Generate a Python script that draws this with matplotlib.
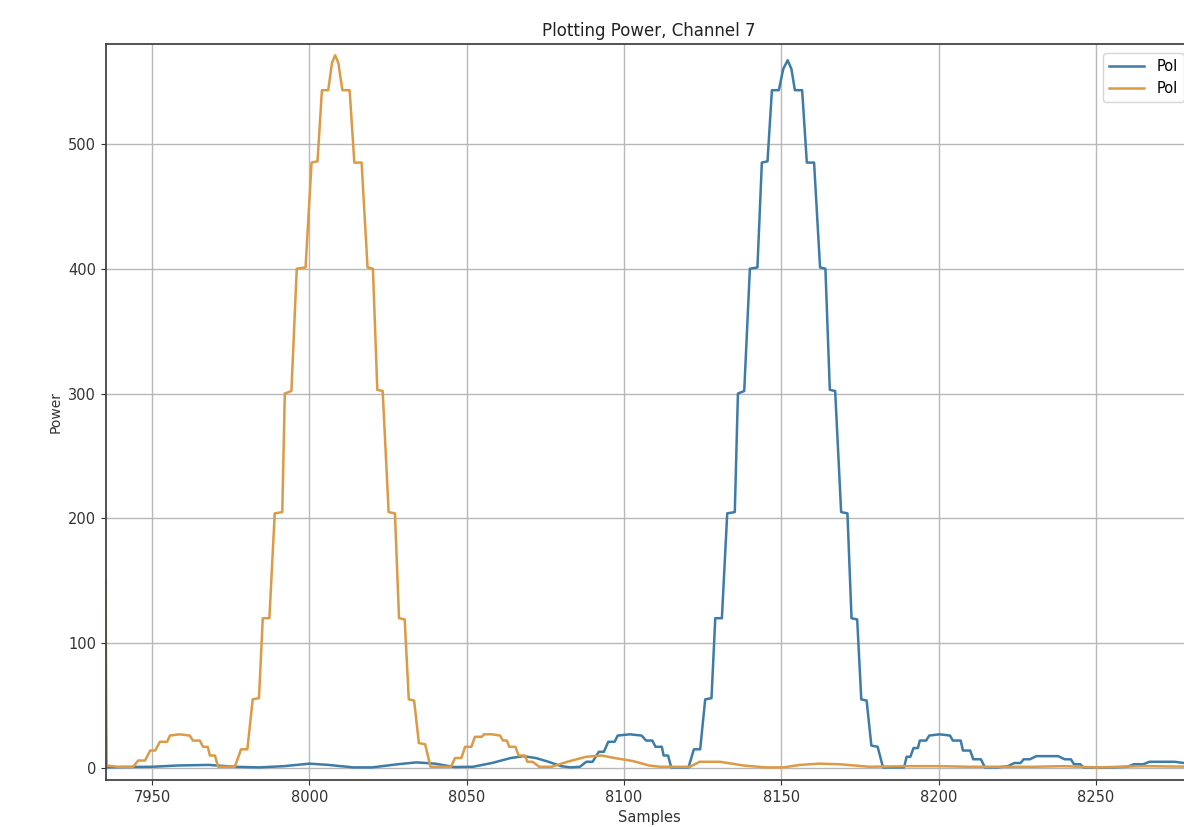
import matplotlib
matplotlib.use("Agg")
import matplotlib.pyplot as plt

# Pol 0 (blue) - breakpoints of the power trace
pol0_samples = [7935.4, 7942, 7950, 7958, 7968, 7976, 7984, 7992, 8000, 8006,
                8014, 8020, 8028, 8034, 8040, 8046, 8052, 8058, 8064, 8068,
                8072, 8076, 8080, 8083, 8086,
                8088, 8090, 8092, 8093.6, 8095, 8097, 8098, 8101.8, 8105.6,
                8107, 8109, 8110, 8112, 8112.6, 8114, 8115, 8120.5,
                8122.2, 8124.2, 8125.8, 8127.8, 8129, 8131.1, 8132.8, 8135.2,
                8136.2, 8138.2, 8140, 8142.4, 8143.8, 8145.6, 8147, 8149.2,
                8150.6, 8152, 8153.2, 8154.3, 8156.6, 8158.1, 8160.4, 8162.3,
                8164, 8165.4, 8167.1, 8169, 8171, 8172.3, 8174.1, 8175.4,
                8177.1, 8178.6, 8180.6, 8182.3, 8189,
                8189.8, 8191, 8192, 8193.4, 8194, 8196, 8197, 8200.3, 8203.6,
                8204.5, 8207, 8207.7, 8210, 8211, 8213.4, 8214.7, 8218.8,
                8222, 8224, 8226, 8227, 8229, 8231, 8238, 8240, 8242, 8243,
                8245, 8246, 8255, 8260, 8262, 8265, 8267, 8275, 8278, 8282]
pol0_power = [0.5, 0.8, 1, 2, 2.5, 1, 0.5, 1.5, 3.5, 2.5,
              0.5, 0.5, 3, 4.5, 3.5, 0.8, 1, 4, 8, 9.5,
              8, 5, 1.5, 0.5, 1,
              5, 5, 13, 13, 21, 21, 26, 27, 26,
              22, 22, 17, 17, 10, 10, 0.5, 0.5,
              15, 15, 55, 56, 120, 120, 204, 205,
              300, 302, 400, 401, 485, 486, 543, 543,
              560, 567, 560, 543, 543, 485, 485, 401,
              400, 303, 302, 205, 204, 120, 119, 55,
              54, 18, 17, 0.5, 0.5,
              9, 9, 16, 16, 22, 22, 26, 27, 26,
              22, 22, 14, 14, 7, 7, 0.5, 0.5,
              1.5, 4, 4, 7, 7, 9.5, 9.5, 7, 7, 3,
              3, 0.5, 0.5, 1, 3, 3, 5, 5, 4, 3]

# Pol 1 (orange)
pol1_samples = [7935.2, 7935.6, 7939, 7944,
                7945.6, 7947.8, 7949.4, 7951, 7952.5, 7954.8, 7955.7, 7958.8,
                7962, 7963, 7965.2, 7966.2, 7967.7, 7968.4, 7970, 7971, 7976.3,
                7978.3, 7980.3, 7982, 7984, 7985.2, 7987.3, 7989, 7991.4,
                7992.2, 7994.3, 7996, 7998.8, 8000.7, 8002.6, 8004, 8006,
                8007.2, 8008.2, 8009.2, 8010.5, 8012.8, 8014.3, 8016.6, 8018.5,
                8020.2, 8021.6, 8023.3, 8025.2, 8027.2, 8028.5, 8030.3, 8031.6,
                8033.3, 8034.8, 8036.8, 8038.5, 8045,
                8046.3, 8048.3, 8049.5, 8051.5, 8052.6, 8054.8, 8055.5, 8058,
                8060.6, 8061.5, 8062.8, 8063.5, 8065.5, 8066.5, 8068.5, 8069.3,
                8071, 8073, 8077, 8082, 8088, 8093, 8097, 8102.8, 8108,
                8111.5, 8121, 8124, 8130.5, 8138, 8145, 8150.5, 8156, 8162,
                8168.6, 8178, 8190, 8200, 8210, 8230, 8240, 8250, 8265, 8282]
pol1_power = [150, 2, 1, 1,
              6, 6, 14, 14, 21, 21, 26, 27,
              26, 22, 22, 17, 17, 10, 10, 1, 1,
              15, 15, 55, 56, 120, 120, 204, 205,
              300, 302, 400, 401, 485, 486, 543, 543,
              565, 571, 565, 543, 543, 485, 485, 401,
              400, 303, 302, 205, 204, 120, 119, 55,
              54, 20, 19, 1, 1,
              8, 8, 17, 17, 25, 25, 27, 27,
              26, 22, 22, 17, 17, 10, 10, 5,
              5, 1, 1, 5, 9, 10, 8, 5.6, 2,
              1, 1, 5, 5, 2, 0.5, 0.5, 2.5, 3.5,
              3, 1, 1.5, 1.5, 1, 1, 1.5, 0.5, 1.5, 1]

legend_labels = ['Pol', 'Pol']

W, H = 1184, 827
fig = plt.figure(figsize=(W / 100, H / 100), dpi=100)
ax = fig.add_axes([106 / W, 1 - 780 / H, 1086 / W, 736 / H])

ax.plot(pol0_samples, pol0_power, color='#3d7ca8', lw=1.8, label=legend_labels[0])
ax.plot(pol1_samples, pol1_power, color='#dc9a45', lw=1.8, label=legend_labels[1])

ax.set_xlim(7935.38, 8280.5)
ax.set_ylim(-9.6, 580)
ax.set_xticks([7950, 8000, 8050, 8100, 8150, 8200, 8250])
ax.set_yticks([0, 100, 200, 300, 400, 500])
ax.tick_params(labelsize=10.5, colors='#333333')
ax.grid(True, color='#b8b8b8', lw=1.0)
for s in ax.spines.values():
    s.set_color('#444444')
    s.set_linewidth(1.3)

ax.set_title('Plotting Power, Channel 7', fontsize=12, color='#222222')
ax.set_xlabel('Samples', fontsize=10.5, color='#333333')
ax.set_ylabel('Power', fontsize=10, color='#333333')

ax.legend(loc='upper left', bbox_to_anchor=(1103 / W, 1 - 53 / H),
          bbox_transform=fig.transFigure, borderaxespad=0, fontsize=10.5,
          handlelength=2.4, handletextpad=0.9, framealpha=0.8)

fig.savefig('out.png', dpi=100)
